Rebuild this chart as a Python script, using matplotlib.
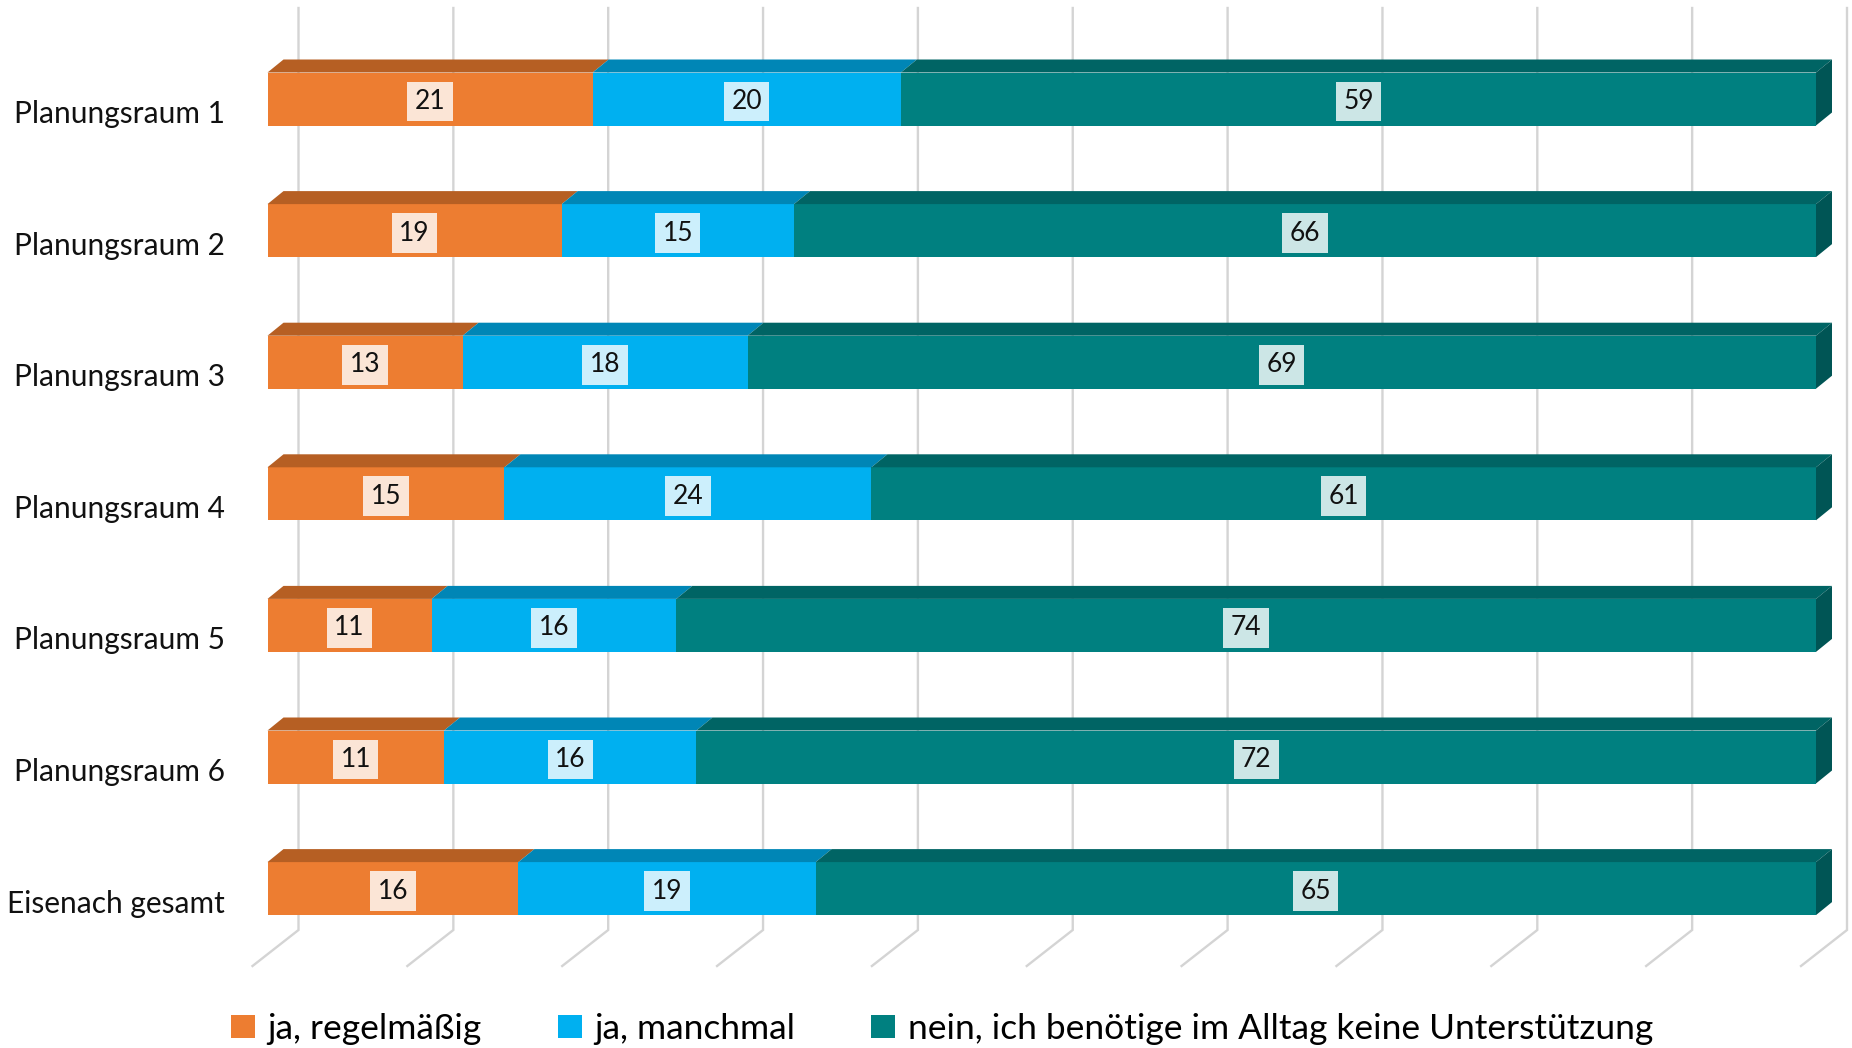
#!/usr/bin/env python3
"""
Unterstützungsbedarf im Alltag nach Planungsraum
gestapeltes 100%-Balkendiagramm im 3D-Stil (Excel-Optik)
"""

import matplotlib
matplotlib.use('Agg')
import matplotlib.pyplot as plt
from matplotlib.patches import Polygon, Rectangle

plt.rcParams['font.family'] = ['Lato', 'DejaVu Sans']

categories = ['Planungsraum 1', 'Planungsraum 2', 'Planungsraum 3', 'Planungsraum 4',
              'Planungsraum 5', 'Planungsraum 6', 'Eisenach gesamt']
series_names = ['ja, regelmäßig', 'ja, manchmal',
                'nein, ich benötige im Alltag keine Unterstützung']

# Anteile in %
regelmaessig = [21.0, 19.0, 12.6, 15.3, 10.6, 11.4, 16.2]
manchmal = [19.9, 15.0, 18.4, 23.7, 15.8, 16.3, 19.2]
nein = [59.1, 66.0, 69.0, 61.0, 73.6, 72.3, 64.6]

x_ticks = list(range(0, 101, 10))

front_colors = ['#ED7D31', '#00B0F0', '#008080']
top_colors = ['#B65F23', '#0086B6', '#006464']
side_color = '#005555'
label_box = ['#FBE5D6', '#CCEFFC', '#CCE6E6']

W, H = 1852, 1048
X0, X1 = 267.5, 1816.0          # Vorderkante 0% / 100% in Pixel
ROW0, ROW_STEP = 99.0, 131.6    # Mitte erste Zeile, Zeilenabstand (Pixel)
BAR_H = 53.0                    # Balkenhöhe (Pixel)
DX, DY = 16.0, 13.0             # Tiefe der Balken
WALL_DX = 31.0                  # Rückwand-Versatz der Gitterlinien
GRID_TOP, GRID_FLOOR, FLOOR_DX, FLOOR_DY = 8.0, 930.0, -46.0, 36.0


def main():
    fig = plt.figure(figsize=(W / 100, H / 100), dpi=100)
    ax = fig.add_axes([X0 / W, 0, (X1 - X0) / W, 1])
    ax.set_xlim(0, 100)
    ax.set_ylim((H - ROW0) / ROW_STEP, -ROW0 / ROW_STEP)

    ppx = (X1 - X0) / 100.0   # Pixel pro %
    ppy = ROW_STEP            # Pixel pro Zeile

    def py(p):
        return (p - ROW0) / ppy

    # Gitterlinien auf der Rückwand + Boden
    for v in x_ticks:
        xb = v + WALL_DX / ppx
        ax.plot([xb, xb, xb + FLOOR_DX / ppx], [py(GRID_TOP), py(GRID_FLOOR), py(GRID_FLOOR + FLOOR_DY)],
                color='#D4D4D4', lw=1.7, solid_joinstyle='miter', zorder=0, clip_on=False)

    h = BAR_H / ppy
    ddx, ddy = DX / ppx, DY / ppy
    data = [regelmaessig, manchmal, nein]
    lefts = [0.0] * len(categories)
    for s, vals in enumerate(data):
        ax.barh(range(len(categories)), vals, left=lefts, height=h,
                color=front_colors[s], edgecolor='none', zorder=2)
        for i, v in enumerate(vals):
            l = lefts[i]
            top = i - h / 2
            ax.add_patch(Polygon([(l, top), (l + v, top), (l + v + ddx, top - ddy), (l + ddx, top - ddy)],
                                 closed=True, facecolor=top_colors[s], edgecolor='none', zorder=2,
                                 clip_on=False))
            if s == len(data) - 1:
                r = l + v
                ax.add_patch(Polygon([(r, top), (r, top + h), (r + ddx, top + h - ddy), (r + ddx, top - ddy)],
                                     closed=True, facecolor=side_color, edgecolor='none', zorder=2,
                                     clip_on=False))
            ax.text(l + v / 2, i + 2.5 / ppy, f'{v:.0f}', ha='center', va='center', fontsize=19,
                    color='#111111', zorder=4,
                    bbox=dict(boxstyle='square,pad=0.28', facecolor=label_box[s], edgecolor='none'))
        lefts = [a + b for a, b in zip(lefts, vals)]

    ax.set_yticks(range(len(categories)))
    ax.set_yticklabels(categories, fontsize=21.5, color='#111111')
    ax.tick_params(axis='y', length=0, pad=30.5)
    ax.set_xticks([])
    for lab in ax.get_yticklabels():
        lab.set_va('center')
        lab.set_transform(lab.get_transform() + matplotlib.transforms.Affine2D().translate(0, -15))
    for sp in ax.spines.values():
        sp.set_visible(False)

    handles = [Rectangle((0, 0), 1, 1, facecolor=c, edgecolor='none') for c in front_colors]
    fig.legend(handles, series_names, loc='center', bbox_to_anchor=(942 / W, 1 - 1029 / H),
               ncol=3, frameon=False, fontsize=25.5, handlelength=0.68, handleheight=0.62,
               handletextpad=0.35, columnspacing=2.15)

    fig.savefig('out.png', dpi=100)


if __name__ == '__main__':
    main()
